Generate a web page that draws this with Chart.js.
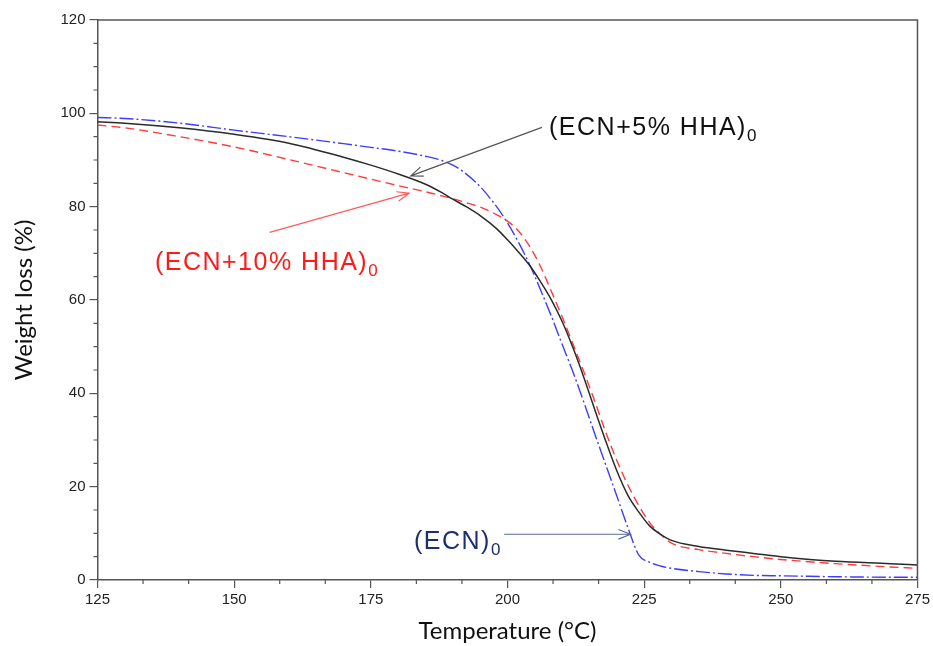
<!DOCTYPE html>
<html>
<head>
<meta charset="utf-8">
<script src="https://cdn.jsdelivr.net/npm/chart.js@4.4.1/dist/chart.umd.min.js"></script>
<style>
    html, body { margin: 0; padding: 0; background: #fff; }
    #wrap { width: 933px; height: 646px; position: relative; }
</style>
</head>
<body>
<div id="wrap"><canvas id="tgaChart"></canvas></div>
<script>
// temperature (°C) shared by all three curves
const temps = [125, 130, 140, 150, 160, 170, 175, 180, 185, 188, 190, 192, 195, 198, 200, 202, 204, 206, 208, 210, 212, 214, 216, 218, 220, 222, 224, 226, 228, 230, 235, 240, 245, 250, 260, 270, 275];

const ecn = [99.1, 98.9, 97.9, 96.4, 95.0, 93.5, 92.7, 91.9, 90.8, 89.9, 88.9, 87.4, 84.3, 80.0, 76.5, 72.4, 67.7, 62.3, 56.6, 50.5, 44.5, 38.0, 31.2, 24.6, 18.0, 11.3, 5.4, 3.8, 3.0, 2.5, 1.8, 1.3, 1.0, 0.9, 0.7, 0.6, 0.6];
const ecn5 = [98.2, 97.9, 96.9, 95.5, 93.6, 90.6, 88.9, 87.0, 84.8, 83.0, 81.6, 80.3, 78.1, 75.3, 72.9, 70.3, 67.5, 64.0, 60.1, 55.4, 49.7, 43.3, 36.4, 29.7, 23.4, 18.2, 14.6, 11.6, 9.8, 8.5, 7.2, 6.4, 5.7, 5.0, 4.0, 3.5, 3.2];
const ecn10 = [97.5, 96.9, 95.0, 92.8, 90.1, 87.3, 85.9, 84.5, 83.2, 82.3, 81.7, 81.0, 79.9, 78.3, 76.9, 74.8, 71.6, 67.3, 61.9, 56.4, 50.5, 44.5, 38.2, 31.6, 25.6, 20.4, 16.0, 12.3, 9.8, 7.9, 6.5, 5.7, 5.0, 4.4, 3.5, 2.8, 2.5];

const xTicks = [125, 150, 175, 200, 225, 250, 275];
const yTicks = [0, 20, 40, 60, 80, 100, 120];

// annotation labels and arrows, placed in data units
const labels = [
    { text: '(ECN+5% HHA)', sub: '0', x: 207.6, y: 95.3, color: '#111111' },
    { text: '(ECN+10% HHA)', sub: '0', x: 135.5, y: 66.4, color: '#ff1a1a' },
    { text: '(ECN)', sub: '0', x: 182.9, y: 6.6, color: '#1c2f6e' }
];
const arrows = [
    { from: [206.3, 97.0], to: [182.3, 86.6], color: '#555555' },
    { from: [156.5, 74.5], to: [182.0, 82.9], color: '#ff5a5a' },
    { from: [199.4, 9.8], to: [222.5, 9.8], color: '#5b6b90' }
];

const toPoints = (vals) => temps.map((t, i) => ({ x: t, y: vals[i] }));

function drawArrow(ctx, x1, y1, x2, y2, color) {
    const ang = Math.atan2(y2 - y1, x2 - x1);
    const head = 13;
    ctx.save();
    ctx.strokeStyle = color;
    ctx.lineWidth = 1.2;
    ctx.beginPath();
    ctx.moveTo(x1, y1);
    ctx.lineTo(x2, y2);
    ctx.moveTo(x2 - head * Math.cos(ang - 0.38), y2 - head * Math.sin(ang - 0.38));
    ctx.lineTo(x2, y2);
    ctx.lineTo(x2 - head * Math.cos(ang + 0.38), y2 - head * Math.sin(ang + 0.38));
    ctx.stroke();
    ctx.restore();
}

const framePlugin = {
    id: 'frame',
    afterDraw(chart) {
        const { ctx, chartArea: a, scales } = chart;
        const xs = scales.x, ys = scales.y;
        ctx.save();
        ctx.strokeStyle = '#555';
        ctx.lineWidth = 1.5;
        ctx.beginPath();
        ctx.moveTo(a.left, a.top);
        ctx.lineTo(a.right, a.top);
        ctx.lineTo(a.right, a.bottom);
        ctx.stroke();

        // minor ticks
        ctx.lineWidth = 1.2;
        ctx.beginPath();
        for (let i = 0; i < xTicks.length - 1; i++) {
            const step = (xTicks[i + 1] - xTicks[i]) / 3;
            for (let k = 1; k < 3; k++) {
                const px = xs.getPixelForValue(xTicks[i] + step * k);
                ctx.moveTo(px, a.bottom);
                ctx.lineTo(px, a.bottom + 4);
            }
        }
        for (let i = 0; i < yTicks.length - 1; i++) {
            const step = (yTicks[i + 1] - yTicks[i]) / 4;
            for (let k = 1; k < 4; k++) {
                const py = ys.getPixelForValue(yTicks[i] + step * k);
                ctx.moveTo(a.left, py);
                ctx.lineTo(a.left - 4, py);
            }
        }
        ctx.stroke();

        arrows.forEach((ar) => {
            drawArrow(ctx, xs.getPixelForValue(ar.from[0]), ys.getPixelForValue(ar.from[1]),
                xs.getPixelForValue(ar.to[0]), ys.getPixelForValue(ar.to[1]), ar.color);
        });

        labels.forEach((lb) => {
            const px = xs.getPixelForValue(lb.x);
            const py = ys.getPixelForValue(lb.y);
            ctx.fillStyle = lb.color;
            ctx.textBaseline = 'alphabetic';
            ctx.textAlign = 'left';
            ctx.letterSpacing = '1.5px';
            ctx.font = '25px "Liberation Sans", Arial, sans-serif';
            ctx.fillText(lb.text, px, py);
            const w = ctx.measureText(lb.text).width;
            ctx.letterSpacing = '0px';
            ctx.font = '17px "Liberation Sans", Arial, sans-serif';
            ctx.fillText(lb.sub, px + w, py + 6);
        });
        ctx.restore();
    }
};

new Chart(document.getElementById('tgaChart').getContext('2d'), {
    type: 'line',
    data: {
        datasets: [
            {
                label: '(ECN+5% HHA)0',
                data: toPoints(ecn5),
                borderColor: '#2b2b2b',
                borderWidth: 1.5,
                pointRadius: 0,
                cubicInterpolationMode: 'monotone'
            },
            {
                label: '(ECN+10% HHA)0',
                data: toPoints(ecn10),
                borderColor: '#ff3b3b',
                borderWidth: 1.4,
                borderDash: [9, 5],
                pointRadius: 0,
                cubicInterpolationMode: 'monotone'
            },
            {
                label: '(ECN)0',
                data: toPoints(ecn),
                borderColor: '#3d3dff',
                borderWidth: 1.4,
                borderDash: [14, 3, 2, 3],
                pointRadius: 0,
                cubicInterpolationMode: 'monotone'
            }
        ]
    },
    options: {
        responsive: true,
        maintainAspectRatio: false,
        animation: false,
        layout: { padding: { left: 0, right: 14, top: 20, bottom: 0 } },
        plugins: { legend: { display: false }, tooltip: { enabled: false } },
        scales: {
            x: {
                type: 'linear',
                min: 125,
                max: 275,
                afterBuildTicks: (scale) => { scale.ticks = xTicks.map((v) => ({ value: v })); },
                afterFit: (scale) => { scale.height = 66; },
                grid: { drawOnChartArea: false, tickLength: 8, color: '#555', lineWidth: 1.2 },
                border: { color: '#555', width: 1.5 },
                ticks: { color: '#222', padding: 3, maxRotation: 0, font: { family: '"Liberation Sans", Arial, sans-serif', size: 15 } },
                title: {
                    display: true,
                    text: 'Temperature (°C)',
                    color: '#111',
                    padding: { top: 0, bottom: 0 },
                    font: { family: 'Lato, "Open Sans", sans-serif', size: 24 }
                }
            },
            y: {
                min: 0,
                max: 120,
                afterBuildTicks: (scale) => { scale.ticks = yTicks.map((v) => ({ value: v })); },
                afterFit: (scale) => { scale.width = 97.5; },
                grid: { drawOnChartArea: false, tickLength: 8, color: '#555', lineWidth: 1.2 },
                border: { color: '#555', width: 1.5 },
                ticks: { color: '#222', padding: 4, font: { family: '"Liberation Sans", Arial, sans-serif', size: 15 } },
                title: {
                    display: true,
                    text: 'Weight loss (%)',
                    color: '#111',
                    padding: { top: 10, bottom: 0 },
                    font: { family: 'Lato, "Open Sans", sans-serif', size: 24 }
                }
            }
        }
    },
    plugins: [framePlugin]
});
</script>
</body>
</html>
